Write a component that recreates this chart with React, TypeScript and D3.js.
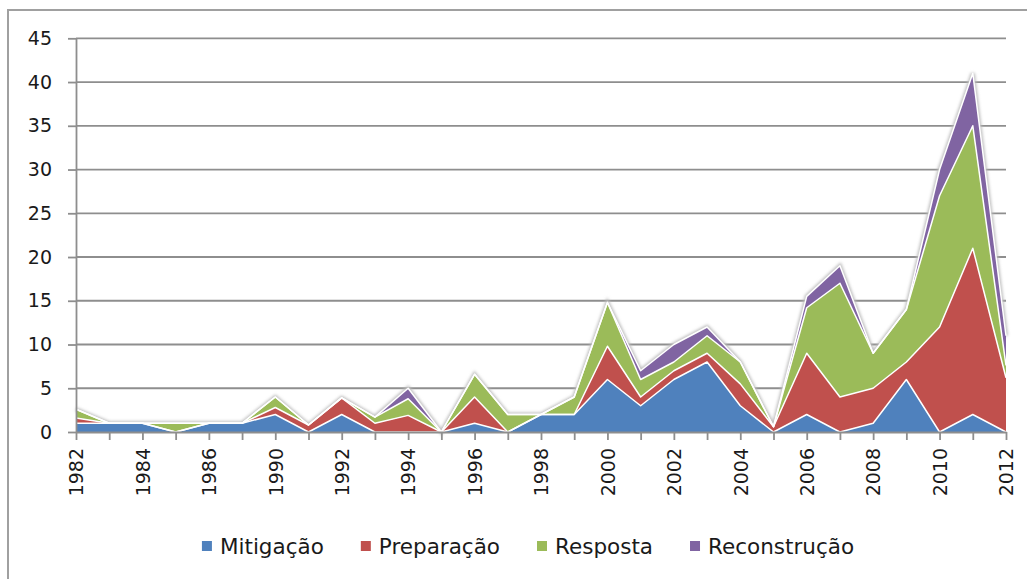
import { useEffect, useRef } from 'react';
import * as d3 from 'd3';

const years = ['1982', '1983', '1984', '1985', '1986', '1988', '1990', '1991', '1992', '1993', '1994', '1995', '1996', '1997', '1998', '1999', '2000', '2001', '2002', '2003', '2004', '2005', '2006', '2007', '2008', '2009', '2010', '2011', '2012'];

const mitigacao = [1, 1, 1, 0, 1, 1, 2, 0, 2, 0, 0, 0, 1, 0, 2, 2, 6, 3, 6, 8, 3, 0, 2, 0, 1, 6, 0, 2, 0];
const preparacao = [0.6, 0, 0, 0, 0, 0, 0.8, 0.8, 1.9, 1, 1.9, 0, 3, 0, 0, 0, 3.8, 1, 1, 1, 2.5, 0.6, 7, 4, 4, 2, 12, 19, 6.2];
const resposta = [1, 0, 0, 1, 0, 0, 1.2, 0, 0, 0.7, 1.9, 0, 2.6, 2, 0, 2, 5, 2, 1, 2, 2.5, 0, 5.2, 13, 4, 6, 15, 14, 1.4];
const reconstrucao = [0, 0, 0, 0, 0, 0, 0, 0, 0, 0, 1.2, 0, 0, 0, 0, 0, 0, 1, 2, 1, 0, 0, 1.3, 2, 0, 0, 3, 6, 3.4];

const seriesNames = ['Mitigação', 'Preparação', 'Resposta', 'Reconstrução'];
const colors = ['#4F81BD', '#C0504D', '#9BBB59', '#8064A2'];
const yTicks = [0, 5, 10, 15, 20, 25, 30, 35, 40, 45];

export default function App() {
  const svgRef = useRef<SVGSVGElement>(null);

  useEffect(() => {
    if (!svgRef.current) return;
    const svg = d3.select(svgRef.current);
    svg.selectAll('*').remove();

    const font = 'DejaVu Sans, Verdana, sans-serif';
    const left = 76, right = 1006, top = 38.3, bottom = 432;

    const x = d3.scalePoint<string>().domain(years).range([left, right]);
    const y = d3.scaleLinear().domain([0, 45]).range([bottom, top]);

    const rows = years.map((yr, i) => ({
      year: yr,
      [seriesNames[0]]: mitigacao[i],
      [seriesNames[1]]: preparacao[i],
      [seriesNames[2]]: resposta[i],
      [seriesNames[3]]: reconstrucao[i],
    }));
    const stacked = d3.stack<any>().keys(seriesNames)(rows);

    // chart frame
    svg.append('rect')
      .attr('x', 8).attr('y', 10)
      .attr('width', 1040).attr('height', 600)
      .attr('fill', 'white')
      .attr('stroke', '#a0a0a0')
      .attr('stroke-width', 2);

    // gridlines
    svg.append('g')
      .selectAll('line')
      .data(yTicks.filter(d => d > 0))
      .join('line')
      .attr('x1', left).attr('x2', right)
      .attr('y1', d => y(d)).attr('y2', d => y(d))
      .attr('stroke', '#8e8e8e')
      .attr('stroke-width', 1.8);

    // soft glow under the areas
    const defs = svg.append('defs');
    defs.append('filter').attr('id', 'glow')
      .attr('x', '-5%').attr('y', '-5%').attr('width', '110%').attr('height', '110%')
      .append('feGaussianBlur').attr('stdDeviation', 1.6);

    const topLine = d3.line<any>()
      .x(d => x(d.data.year)!)
      .y(d => y(d[1]));

    svg.append('path')
      .datum(stacked[stacked.length - 1])
      .attr('d', topLine)
      .attr('fill', 'none')
      .attr('stroke', '#bdbdbd')
      .attr('stroke-width', 4)
      .attr('filter', 'url(#glow)');

    const area = d3.area<any>()
      .x(d => x(d.data.year)!)
      .y0(d => y(d[0]))
      .y1(d => y(d[1]));

    const areas = svg.append('g');
    stacked.forEach((s, i) => {
      areas.append('path')
        .datum(s)
        .attr('d', area)
        .attr('fill', colors[i]);
    });
    stacked.forEach(s => {
      areas.append('path')
        .datum(s)
        .attr('d', topLine)
        .attr('fill', 'none')
        .attr('stroke', 'white')
        .attr('stroke-width', 1.5)
        .attr('stroke-linejoin', 'round');
    });

    // y axis
    const yAxis = svg.append('g')
      .attr('transform', `translate(${left},0)`)
      .call(d3.axisLeft(y).tickValues(yTicks).tickSize(8).tickPadding(16).tickSizeOuter(0));
    yAxis.select('.domain').attr('stroke', '#8e8e8e').attr('stroke-width', 1.8);
    yAxis.selectAll('.tick line').attr('stroke', '#8e8e8e').attr('stroke-width', 1.8);
    yAxis.selectAll('.tick text')
      .attr('font-family', font)
      .attr('font-size', 19)
      .attr('fill', '#1a1a1a');

    // x axis
    const xAxis = svg.append('g')
      .attr('transform', `translate(0,${bottom})`)
      .call(d3.axisBottom(x).tickSize(8).tickSizeOuter(0)
        .tickFormat((d, i) => (i % 2 === 0 ? d : '')));
    xAxis.select('.domain').attr('stroke', '#8e8e8e').attr('stroke-width', 1.8);
    xAxis.selectAll('.tick line').attr('stroke', '#8e8e8e').attr('stroke-width', 1.8);
    xAxis.selectAll('.tick text')
      .attr('font-family', font)
      .attr('font-size', 19)
      .attr('fill', '#1a1a1a')
      .attr('text-anchor', 'end')
      .attr('transform', 'rotate(-90)')
      .attr('x', -16)
      .attr('y', 0)
      .attr('dy', '0.36em');

    // legend
    const legend = svg.append('g');
    const items = legend.selectAll('g')
      .data(seriesNames)
      .join('g');
    items.append('rect')
      .attr('width', 10).attr('height', 10)
      .attr('y', -5)
      .attr('fill', (_, i) => colors[i]);
    items.append('text')
      .attr('x', 18)
      .attr('dy', '0.36em')
      .attr('font-family', font)
      .attr('font-size', 21.5)
      .attr('fill', '#1a1a1a')
      .text(d => d);

    const widths: number[] = [];
    items.each(function () {
      widths.push((d3.select(this).select('text').node() as SVGTextElement).getComputedTextLength() + 18);
    });
    const gap = 37;
    const total = d3.sum(widths) + gap * (widths.length - 1);
    let cx = 528 - total / 2;
    items.each(function (_, i) {
      d3.select(this).attr('transform', `translate(${cx},546)`);
      cx += widths[i] + gap;
    });
  }, []);

  return (
    <svg ref={svgRef} width={1027} height={579}
      style={{ position: 'absolute', left: 0, top: 0, display: 'block', background: 'white' }} />
  );
}
